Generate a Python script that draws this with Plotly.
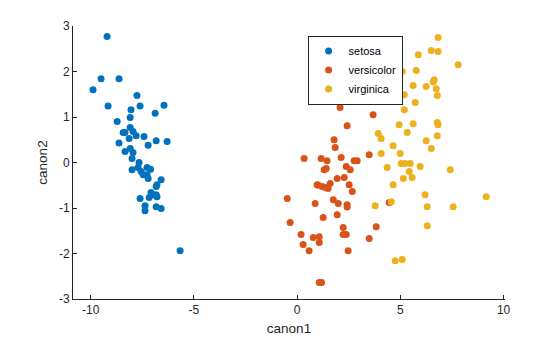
import plotly.graph_objects as go

# Canonical scores
setosa_c1 = [-9.21, -9.50, -8.63, -9.89, -9.16, -7.76, -8.05, -7.61, -6.45, -6.88,
             -8.09, -8.72, -8.43, -8.34, -8.09, -7.95, -7.80, -8.14, -7.42, -8.63,
             -7.22, -6.83, -6.30, -8.34, -8.09, -7.95, -8.00, -7.66, -8.00, -7.71,
             -7.27, -7.56, -7.46, -7.27, -7.22, -6.59, -6.79, -6.83, -7.08, -6.98,
             -6.83, -7.17, -6.79, -7.61, -7.37, -7.37, -6.83, -6.59, -5.67, -7.10]
setosa_c2 = [2.77, 1.84, 1.84, 1.60, 1.24, 1.47, 1.16, 1.24, 1.26, 1.08,
             0.99, 0.90, 0.66, 0.66, 0.77, 0.68, 0.59, 0.53, 0.57, 0.43,
             0.38, 0.48, 0.46, 0.24, 0.31, 0.22, 0.09, 0.00, -0.16, -0.11,
             -0.11, -0.20, -0.27, -0.27, -0.35, -0.38, -0.49, -0.53, -0.66, -0.71,
             -0.71, -0.77, -0.75, -0.79, -0.95, -1.06, -0.97, -1.01, -1.94, -0.15]

versicolor_c1 = [2.08, 3.68, 2.42, 1.79, 1.84, 3.49, 0.34, 1.16, 1.45, 2.13,
                 2.76, 2.91, 1.31, 1.41, 2.38, 2.57, 1.94, 2.28, 2.52, 0.97,
                 1.21, 1.36, 1.50, 1.60, 2.67, -0.48, 0.87, 1.75, 1.99, 2.42,
                 2.42, 4.46, -0.34, 1.26, 1.94, 2.23, 3.83, 0.19, 0.78, 1.07,
                 2.23, 2.38, 3.49, 0.29, 1.07, 0.58, 2.47, 1.07, 1.18, 1.02]
versicolor_c2 = [1.21, 1.05, 0.81, 0.50, 0.33, 0.17, 0.09, 0.09, 0.04, 0.11,
                 0.04, 0.04, -0.16, -0.13, -0.09, -0.16, -0.35, -0.33, -0.49, -0.49,
                 -0.53, -0.55, -0.57, -0.46, -0.64, -0.79, -0.90, -0.82, -0.90, -0.93,
                 -0.98, -0.88, -1.32, -1.21, -1.15, -1.43, -1.41, -1.58, -1.65, -1.63,
                 -1.58, -1.58, -1.67, -1.80, -1.76, -1.94, -1.94, -2.64, -2.64, -0.50]

virginica_c1 = [6.83, 6.50, 6.83, 5.87, 7.80, 5.09, 5.77, 6.64, 6.59, 5.62,
                6.25, 6.74, 5.19, 6.79, 4.41, 5.72, 5.19, 4.94, 5.62, 6.79,
                6.83, 5.33, 3.93, 4.07, 6.25, 6.79, 4.65, 6.50, 4.99, 4.07,
                4.36, 5.04, 5.23, 5.48, 5.96, 5.43, 7.42, 5.14, 5.57, 4.65,
                6.20, 9.16, 3.78, 4.56, 6.30, 7.56, 6.30, 4.75, 5.09]
virginica_c2 = [2.75, 2.46, 2.44, 2.37, 2.15, 2.00, 2.02, 1.82, 1.77, 1.69,
                1.67, 1.62, 1.49, 1.47, 1.36, 1.32, 1.16, 0.83, 0.85, 0.88,
                0.83, 0.66, 0.64, 0.53, 0.48, 0.59, 0.37, 0.31, 0.20, 0.20,
                -0.11, -0.02, -0.02, -0.02, -0.09, -0.20, -0.16, -0.35, -0.33, -0.49,
                -0.71, -0.75, -0.95, -0.86, -0.97, -0.97, -1.39, -2.16, -2.13]

x_ticks = [-10, -5, 0, 5, 10]
y_ticks = [-3, -2, -1, 0, 1, 2, 3]

series = [
    ("setosa", setosa_c1, setosa_c2, "#0072BD"),
    ("versicolor", versicolor_c1, versicolor_c2, "#D95319"),
    ("virginica", virginica_c1, virginica_c2, "#EDB120"),
]

fig = go.Figure()
for name, xs, ys, col in series:
    fig.add_trace(go.Scatter(x=xs, y=ys, mode="markers", name=name,
                             marker=dict(color=col, size=7, line=dict(width=0))))

axis_common = dict(showgrid=False, zeroline=False, showline=True, linecolor="#262626",
                   linewidth=1, ticks="inside", ticklen=4, tickcolor="#262626",
                   tickfont=dict(family="Liberation Sans, Arial", size=12, color="#262626"),
                   mirror=False, automargin=False)

fig.update_layout(
    width=560, height=337,
    margin=dict(l=73, r=55, t=26, b=38, autoexpand=False),
    paper_bgcolor="white", plot_bgcolor="white",
    xaxis=dict(range=[-10.86, 10.07], tickvals=x_ticks, ticktext=[str(v) for v in x_ticks],
               title=dict(text="canon1", standoff=7,
                          font=dict(family="Liberation Sans, Arial", size=13.5, color="#262626")),
               **axis_common),
    yaxis=dict(range=[-3, 3], tickvals=y_ticks, ticktext=[str(v) for v in y_ticks],
               title=dict(text="canon2", standoff=8,
                          font=dict(family="Liberation Sans, Arial", size=13.5, color="#262626")),
               **axis_common),
    legend=dict(x=0.543, y=0.965, xanchor="left", yanchor="top",
                bgcolor="white", bordercolor="#262626", borderwidth=1,
                font=dict(family="Liberation Sans, Arial", size=11, color="#000000"),
                itemwidth=30, tracegroupgap=0),
    showlegend=True,
)

fig.write_html("out.html")
